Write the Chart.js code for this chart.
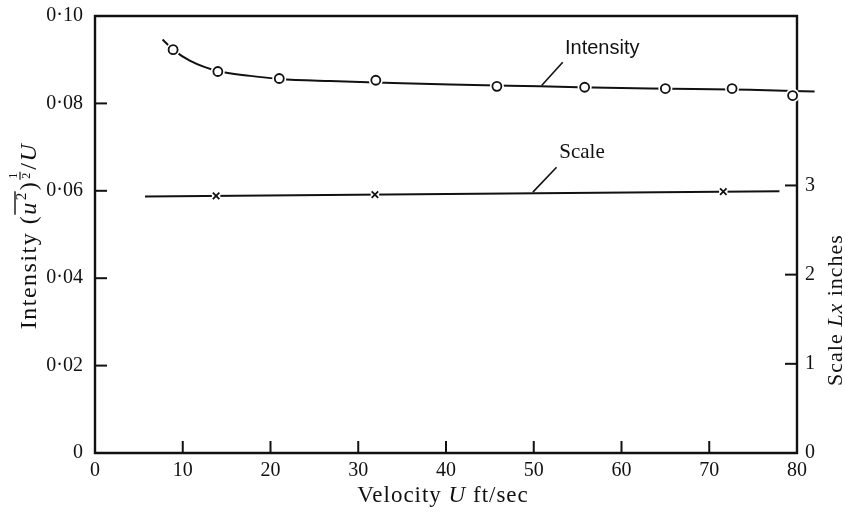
<!DOCTYPE html>
<html><head><meta charset="utf-8">
<script src="https://cdn.jsdelivr.net/npm/chart.js@4.4.1/dist/chart.umd.min.js"></script>
<style>html,body{margin:0;padding:0;background:#fff}#wrap{width:845px;height:512px;position:relative}</style>
</head><body><div id="wrap"><canvas id="c"></canvas></div>
<script>
// ---- data ----
const velocityTicks = [0, 10, 20, 30, 40, 50, 60, 70, 80];
const intensityTicks = [0, 0.02, 0.04, 0.06, 0.08, 0.10];
const intensityTickLabels = ['0', '0·02', '0·04', '0·06', '0·08', '0·10'];
const scaleTicks = [0, 1, 2, 3];
const scaleTickLabels = ['0', '1', '2', '3'];

const intensityX = [8.9, 14.0, 21.0, 32.0, 45.8, 55.8, 65.0, 72.6, 79.5];
const intensityY = [0.0923, 0.0873, 0.0857, 0.0853, 0.0839, 0.0837, 0.0834, 0.0834, 0.0818];
const intensityCurveX = [7.7, 8.9, 10.8, 14.0, 17.7, 21.0, 26.8, 32.0, 40.5, 50.7, 63.2, 74.6, 82.0];
const intensityCurveY = [0.0946, 0.0923, 0.0898, 0.0874, 0.0863, 0.0856, 0.0851, 0.0848, 0.0843, 0.0839, 0.0834, 0.0831, 0.0827];
const scaleX = [13.8, 31.9, 71.6];
const scaleY = [2.882, 2.896, 2.930];
const scaleLineX = [5.7, 78.0];
const scaleLineY = [2.875, 2.935];

const pts = (xs, ys) => xs.map((x, i) => ({x, y: ys[i]}));

const SERIF = '"Liberation Serif", "Times New Roman", serif';
const INK = '#111';

const notes = [
  {text: 'Intensity', font: '20px "Liberation Sans", Arial, sans-serif', at: [57.8, 0.0926], from: [50.9, 0.0841], to: [53.3, 0.0894]},
  {text: 'Scale', font: '21px ' + SERIF, at: [55.5, 0.0688], from: [49.9, 0.0597], to: [52.6, 0.0654]}
];

const framePlugin = {
  id: 'frame',
  beforeDatasetsDraw(chart) {
    const {ctx, chartArea: a, scales} = chart;
    ctx.save();
    ctx.strokeStyle = INK;
    ctx.lineWidth = 2.4;
    ctx.lineCap = 'square';
    ctx.beginPath();
    ctx.rect(a.left, a.top, a.right - a.left, a.bottom - a.top);
    ctx.stroke();
    ctx.lineWidth = 2;
    ctx.lineCap = 'butt';
    const L = 12;
    scales.x.ticks.forEach(t => {
      const p = scales.x.getPixelForValue(t.value);
      ctx.beginPath(); ctx.moveTo(p, a.bottom); ctx.lineTo(p, a.bottom - L); ctx.stroke();
    });
    scales.y.ticks.forEach(t => {
      const p = scales.y.getPixelForValue(t.value);
      ctx.beginPath(); ctx.moveTo(a.left, p); ctx.lineTo(a.left + L, p); ctx.stroke();
    });
    scales.y2.ticks.forEach(t => {
      const p = scales.y2.getPixelForValue(t.value);
      ctx.beginPath(); ctx.moveTo(a.right, p); ctx.lineTo(a.right - L, p); ctx.stroke();
    });
    ctx.restore();
  },
  afterDatasetsDraw(chart) {
    const {ctx, scales} = chart;
    ctx.save();
    ctx.fillStyle = INK; ctx.strokeStyle = INK; ctx.lineWidth = 1.6;
    notes.forEach(n => {
      ctx.beginPath();
      ctx.moveTo(scales.x.getPixelForValue(n.from[0]), scales.y.getPixelForValue(n.from[1]));
      ctx.lineTo(scales.x.getPixelForValue(n.to[0]), scales.y.getPixelForValue(n.to[1]));
      ctx.stroke();
      ctx.font = n.font;
      ctx.textAlign = 'center'; ctx.textBaseline = 'middle';
      ctx.fillText(n.text, scales.x.getPixelForValue(n.at[0]), scales.y.getPixelForValue(n.at[1]));
    });
    ctx.restore();
  },
  afterDraw(chart) {
    const {ctx, chartArea: a} = chart;
    ctx.save();
    ctx.fillStyle = INK; ctx.strokeStyle = INK;
    const drawPieces = (pieces) => {
      let w = 0;
      pieces.forEach(p => { ctx.font = p.font; p.w = p.w0 !== undefined ? p.w0 : ctx.measureText(p.t).width; w += p.w + (p.gap || 0); });
      let x = -w / 2;
      ctx.textAlign = 'left'; ctx.textBaseline = 'alphabetic';
      pieces.forEach(p => {
        ctx.font = p.font;
        if (p.draw) p.draw(x); else ctx.fillText(p.t, x, -(p.dy || 0));
        x += p.w + (p.gap || 0);
      });
    };
    const R = '24px ' + SERIF, I = 'italic 24px ' + SERIF, S = '15px ' + SERIF, T = '12px ' + SERIF;
    // left title
    ctx.save();
    ctx.letterSpacing = '1.5px';
    ctx.translate(36, 236);
    ctx.rotate(-Math.PI / 2);
    let uStart = 0;
    drawPieces([
      {t: 'Intensity ', font: R},
      {t: '(', font: R},
      {t: 'u', font: I, draw: (x) => { uStart = x; ctx.fillText('u', x, 0); }},
      {t: '2', font: S, draw: (x) => {
        ctx.fillText('2', x + 1, -10);
        const end = x + 1 + ctx.measureText('2').width;
        ctx.save(); ctx.lineWidth = 1.4; ctx.beginPath(); ctx.moveTo(uStart, -21); ctx.lineTo(end, -21); ctx.stroke(); ctx.restore();
      }, gap: 2},
      {t: ')', font: R},
      {t: '1', font: T, w0: 9, draw: (x) => {
        ctx.save(); ctx.letterSpacing = '0px';
        ctx.textAlign = 'center';
        ctx.fillText('1', x + 5, -19);
        ctx.fillText('2', x + 5, -6);
        ctx.lineWidth = 1.2; ctx.beginPath(); ctx.moveTo(x + 1, -16); ctx.lineTo(x + 9, -16); ctx.stroke();
        ctx.restore();
      }, gap: 2},
      {t: '/', font: R},
      {t: 'U', font: I}
    ]);
    ctx.restore();
    ctx.letterSpacing = '1px';
    // right title
    ctx.save();
    ctx.translate(842, 310);
    ctx.rotate(-Math.PI / 2);
    drawPieces([
      {t: 'Scale ', font: '22px ' + SERIF},
      {t: 'Lx', font: 'italic 22px ' + SERIF},
      {t: ' inches', font: '22px ' + SERIF}
    ]);
    ctx.restore();
    // x title
    ctx.save();
    ctx.translate((a.left + a.right) / 2 - 3, 502);
    drawPieces([
      {t: 'Velocity ', font: '23px ' + SERIF},
      {t: 'U', font: 'italic 23px ' + SERIF},
      {t: ' ft/sec', font: '23px ' + SERIF}
    ]);
    ctx.restore();
    ctx.restore();
  }
};

const tickFont = {family: SERIF, size: 20};
const noPad = s => { s.paddingTop = 0; s.paddingBottom = 0; };

new Chart(document.getElementById('c'), {
  type: 'line',
  data: {
    datasets: [
      {data: pts(intensityX, intensityY), yAxisID: 'y', showLine: false, pointStyle: 'circle', pointRadius: 4.5,
       pointBorderWidth: 1.8, pointBorderColor: INK, pointBackgroundColor: '#fff', clip: false, order: 0},
      {data: pts(scaleX, scaleY), yAxisID: 'y2', showLine: false, pointStyle: 'crossRot', pointRadius: 4.6,
       pointBorderWidth: 1.8, pointBorderColor: INK, clip: false, order: 0},
      {data: pts(intensityX, intensityY), yAxisID: 'y', showLine: false, pointStyle: 'circle', pointRadius: 7,
       pointBorderWidth: 0, pointBackgroundColor: '#fff', clip: false, order: 1},
      {data: pts(scaleX, scaleY), yAxisID: 'y2', showLine: false, pointStyle: 'rect', pointRadius: 6,
       pointBorderWidth: 0, pointBackgroundColor: '#fff', clip: false, order: 1},
      {data: pts(intensityCurveX, intensityCurveY), yAxisID: 'y', borderColor: INK, borderWidth: 2,
       cubicInterpolationMode: 'monotone', pointRadius: 0, clip: false, order: 2},
      {data: pts(scaleLineX, scaleLineY), yAxisID: 'y2', borderColor: INK, borderWidth: 2,
       pointRadius: 0, clip: false, order: 2}
    ]
  },
  options: {
    responsive: true, maintainAspectRatio: false, animation: false,
    layout: {padding: {top: 16, left: 0, right: 0, bottom: 0}},
    plugins: {legend: {display: false}, tooltip: {enabled: false}},
    scales: {
      x: {type: 'linear', min: 0, max: 80,
          afterBuildTicks: s => { s.ticks = velocityTicks.map(v => ({value: v})); },
          afterFit: s => { s.height = 59; },
          grid: {display: false}, border: {display: false},
          ticks: {font: tickFont, color: INK, padding: -2, maxRotation: 0, callback: v => String(v)}},
      y: {type: 'linear', position: 'left', min: 0, max: 0.10,
          afterBuildTicks: s => { s.ticks = intensityTicks.map(v => ({value: v})); },
          afterFit: s => { s.width = 95; noPad(s); },
          grid: {display: false}, border: {display: false},
          ticks: {font: tickFont, color: INK, padding: 4,
                  callback: (v, i) => intensityTickLabels[i]}},
      y2: {type: 'linear', position: 'right', min: 0, max: 4.9,
          afterBuildTicks: s => { s.ticks = scaleTicks.map(v => ({value: v})); },
          afterFit: s => { s.width = 48; noPad(s); },
          grid: {display: false}, border: {display: false},
          ticks: {font: tickFont, color: INK, padding: 0,
                  callback: (v, i) => scaleTickLabels[i]}}
    }
  },
  plugins: [framePlugin]
});
</script>
</body></html>
